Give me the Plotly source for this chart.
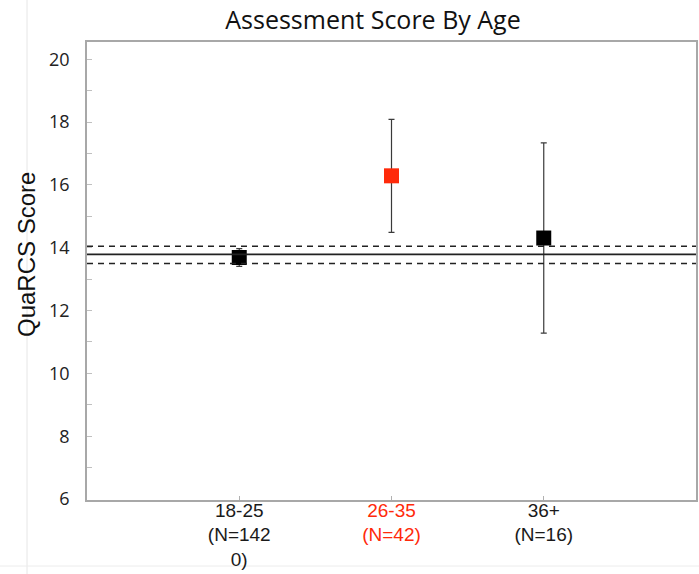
import plotly.graph_objects as go

# Mean QuaRCS score per age group with error bars
groups = ["18-25", "26-35", "36+"]
group_n = ["142<br>0)", "42)", "16)"]
means = [13.69, 16.29, 14.31]
errors = [0.28, 1.80, 3.03]
marker_colors = ["#000000", "#ff2a0a", "#000000"]
label_colors = ["#1a1a1a", "#ff2a0a", "#1a1a1a"]

# Overall mean and its confidence band
overall_mean = 13.79
overall_band = [13.50, 14.05]

xpos = [1, 2, 3]
ticktext = [
    f"<span style='color:{c}'>{g}<br>(N={n}</span>"
    for g, n, c in zip(groups, group_n, label_colors)
]

W, H = 699, 574
ML, MR, MT, MB = 87, 3, 42, 74

fig = go.Figure()
fig.add_trace(go.Scatter(
    x=xpos, y=means, mode="markers",
    marker=dict(symbol="square", size=15, color=marker_colors, line=dict(width=0)),
    error_y=dict(type="data", array=errors, visible=True,
                 color="#3a3a3a", thickness=1.2, width=3),
    showlegend=False,
))

shapes = [
    dict(type="line", xref="paper", yref="y", x0=0, x1=1,
         y0=overall_mean, y1=overall_mean, line=dict(color="#222222", width=1.6)),
]
for v in overall_band:
    shapes.append(dict(type="line", xref="paper", yref="y", x0=0, x1=1, y0=v, y1=v,
                       line=dict(color="#222222", width=1.6, dash="6px,5px")))

# faint slide guides around the chart
pw = W - ML - MR
ph = H - MT - MB
shapes.append(dict(type="line", xref="paper", yref="paper",
                   x0=(27 - ML) / pw, x1=(27 - ML) / pw, y0=-MB / ph, y1=1 + MT / ph,
                   line=dict(color="#e6e6e6", width=1), layer="below"))
shapes.append(dict(type="line", xref="paper", yref="paper",
                   x0=-ML / pw, x1=1 + MR / pw, y0=-(566 - (H - MB)) / ph, y1=-(566 - (H - MB)) / ph,
                   line=dict(color="#ececec", width=1), layer="below"))

fig.update_layout(
    width=W, height=H,
    margin=dict(l=ML, r=MR, t=MT, b=MB),
    paper_bgcolor="white", plot_bgcolor="white",
    title=dict(text="Assessment Score By Age", x=373 / W, xanchor="center",
               y=1 - 20 / H, yanchor="middle",
               font=dict(family="Open Sans", size=25, color="#111111")),
    shapes=shapes,
    xaxis=dict(
        range=[0, 4], tickvals=xpos, ticktext=ticktext, automargin=False,
        ticks="inside", ticklen=4, tickcolor="#b0b0b0",
        showline=True, mirror=True, linecolor="#a8a8a8", linewidth=1.5,
        showgrid=False, zeroline=False, ticklabelstandoff=-8,
        tickfont=dict(family="Liberation Sans", size=19, color="#1a1a1a"),
    ),
    yaxis=dict(
        range=[5.97, 20.55], dtick=2, tick0=0, automargin=False,
        ticks="inside", ticklen=5, tickcolor="#c0c0c0",
        minor=dict(dtick=1, ticks="inside", ticklen=5, tickcolor="#c0c0c0"),
        showline=True, mirror=True, linecolor="#a8a8a8", linewidth=1.5,
        showgrid=False, zeroline=False, ticklabelstandoff=12,
        tickfont=dict(family="Open Sans", size=18, color="#222222"),
    ),
    annotations=[dict(
        text="QuaRCS Score", textangle=-90, xref="paper", yref="paper",
        x=(27 - ML) / pw, y=1 - (255 - MT) / ph, xanchor="center", yanchor="middle",
        showarrow=False, font=dict(family="Liberation Sans", size=24, color="#111111"),
    )],
)

fig.write_html("out.html")
